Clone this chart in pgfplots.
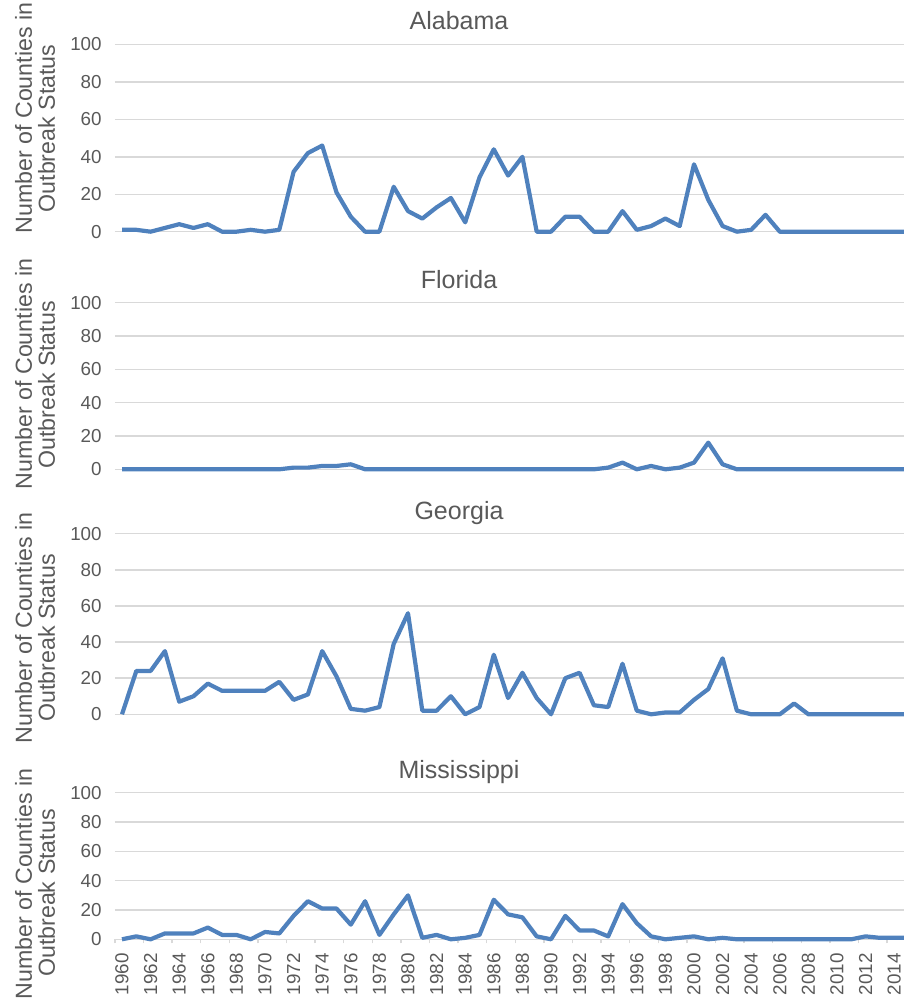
\documentclass[border=0pt]{standalone}
\usepackage{fontspec}
\setmainfont{Liberation Sans}
\usepackage{pgfplots}
\pgfplotsset{compat=1.18}
\definecolor{gridgray}{RGB}{217,217,217}
\definecolor{txtgray}{RGB}{89,89,89}
\definecolor{serblue}{RGB}{79,129,189}
\pgfplotsset{
  panel/.style={
    scale only axis, width=400.4pt,
    xmin=1959.5, xmax=2015.5, ymin=0, ymax=100,
    ytick={0,20,...,100}, ymajorgrids,
    grid style={draw=gridgray, line width=0.7pt},
    axis line style={draw=none},
    major tick length=0pt,
    xtick=\empty,
    clip=false,
    /pgf/number format/assume math mode=true,
    /pgf/number format/1000 sep={},
    yticklabel style={font=\fontsize{9.4}{11}\selectfont, text=txtgray, inner sep=0pt, anchor=east},
    yticklabel shift=6.4pt,
    anchor=south west,
  },
  ser/.style={color=serblue, line width=2.1pt, line join=round, no marks},
}
\begin{document}
\begin{tikzpicture}[x=1pt,y=1pt]
% Alabama
\begin{axis}[panel, at={(57.425pt,385.15pt)}, height=93.6pt]
\addplot[ser] coordinates {
(1960,1)(1961,1)(1962,0)(1963,2)(1964,4)(1965,2)(1966,4)(1967,0)(1968,0)(1969,1)
(1970,0)(1971,1)(1972,32)(1973,42)(1974,46)(1975,21)(1976,8)(1977,0)(1978,0)(1979,24)
(1980,11)(1981,7)(1982,13)(1983,18)(1984,5)(1985,29)(1986,44)(1987,30)(1988,40)(1989,0)
(1990,0)(1991,8)(1992,8)(1993,0)(1994,0)(1995,11)(1996,1)(1997,3)(1998,7)(1999,3)
(2000,36)(2001,17)(2002,3)(2003,0)(2004,1)(2005,9)(2006,0)(2007,0)(2008,0)(2009,0)
(2010,0)(2011,0)(2012,0)(2013,0)(2014,0)(2015,0)};
\end{axis}
% Florida
\begin{axis}[panel, at={(57.425pt,266.35pt)}, height=83.25pt]
\addplot[ser] coordinates {
(1960,0)(1961,0)(1962,0)(1963,0)(1964,0)(1965,0)(1966,0)(1967,0)(1968,0)(1969,0)
(1970,0)(1971,0)(1972,1)(1973,1)(1974,2)(1975,2)(1976,3)(1977,0)(1978,0)(1979,0)
(1980,0)(1981,0)(1982,0)(1983,0)(1984,0)(1985,0)(1986,0)(1987,0)(1988,0)(1989,0)
(1990,0)(1991,0)(1992,0)(1993,0)(1994,1)(1995,4)(1996,0)(1997,2)(1998,0)(1999,1)
(2000,4)(2001,16)(2002,3)(2003,0)(2004,0)(2005,0)(2006,0)(2007,0)(2008,0)(2009,0)
(2010,0)(2011,0)(2012,0)(2013,0)(2014,0)(2015,0)};
\end{axis}
% Georgia
\begin{axis}[panel, at={(57.425pt,143.85pt)}, height=90.25pt]
\addplot[ser] coordinates {
(1960,0)(1961,24)(1962,24)(1963,35)(1964,7)(1965,10)(1966,17)(1967,13)(1968,13)(1969,13)
(1970,13)(1971,18)(1972,8)(1973,11)(1974,35)(1975,21)(1976,3)(1977,2)(1978,4)(1979,39)
(1980,56)(1981,2)(1982,2)(1983,10)(1984,0)(1985,4)(1986,33)(1987,9)(1988,23)(1989,9)
(1990,0)(1991,20)(1992,23)(1993,5)(1994,4)(1995,28)(1996,2)(1997,0)(1998,1)(1999,1)
(2000,8)(2001,14)(2002,31)(2003,2)(2004,0)(2005,0)(2006,0)(2007,6)(2008,0)(2009,0)
(2010,0)(2011,0)(2012,0)(2013,0)(2014,0)(2015,0)};
\end{axis}
% Mississippi
\begin{axis}[panel, at={(57.425pt,31.35pt)}, height=73.25pt,
  xtick={1960,1962,...,2014},
  minor xtick={1959.5,1961.5,...,2015.5},
  xtick pos=lower,
  minor tick length=2pt, tick align=outside,
  minor tick style={draw=gridgray, line width=0.7pt},
  xticklabel style={font=\fontsize{9.4}{11}\selectfont, text=txtgray, rotate=90, anchor=east, inner sep=0pt},
  xticklabel shift=6.85pt]
\addplot[ser] coordinates {
(1960,0)(1961,2)(1962,0)(1963,4)(1964,4)(1965,4)(1966,8)(1967,3)(1968,3)(1969,0)
(1970,5)(1971,4)(1972,16)(1973,26)(1974,21)(1975,21)(1976,10)(1977,26)(1978,3)(1979,17)
(1980,30)(1981,1)(1982,3)(1983,0)(1984,1)(1985,3)(1986,27)(1987,17)(1988,15)(1989,2)
(1990,0)(1991,16)(1992,6)(1993,6)(1994,2)(1995,24)(1996,11)(1997,2)(1998,0)(1999,1)
(2000,2)(2001,0)(2002,1)(2003,0)(2004,0)(2005,0)(2006,0)(2007,0)(2008,0)(2009,0)
(2010,0)(2011,0)(2012,2)(2013,1)(2014,1)(2015,1)};
\end{axis}
% titles
\begin{scope}[every node/.style={anchor=base, text=txtgray, font=\fontsize{12.5}{15}\selectfont, inner sep=0pt}]
\node at (229.5pt,486pt) {Alabama};
\node at (229.5pt,356.85pt) {Florida};
\node at (229.5pt,241.35pt) {Georgia};
\node at (229.5pt,111.85pt) {Mississippi};
\end{scope}
% y labels
\begin{scope}[every node/.style={rotate=90, anchor=base, text=txtgray, font=\fontsize{11.6}{13}\selectfont, inner sep=0pt}]
\node at (16pt,442pt) {Number of Counties in};
\node at (27.5pt,436.75pt) {Outbreak Status};
\node at (16pt,314pt) {Number of Counties in};
\node at (27.5pt,308.5pt) {Outbreak Status};
\node at (16pt,187pt) {Number of Counties in};
\node at (27.5pt,182pt) {Outbreak Status};
\node at (16pt,59pt) {Number of Counties in};
\node at (27.5pt,54.5pt) {Outbreak Status};
\end{scope}
\pgfresetboundingbox
\path[use as bounding box] (0,0) rectangle (452pt,501pt);
\end{tikzpicture}
\end{document}
